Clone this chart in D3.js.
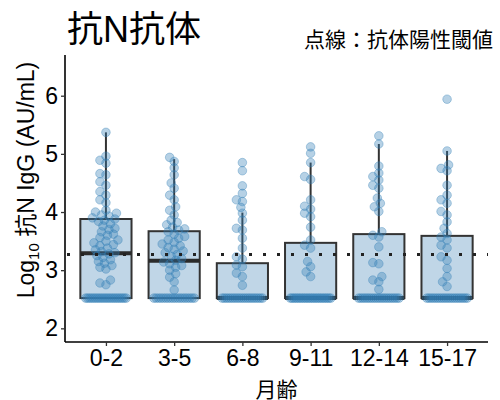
<!DOCTYPE html>
<html>
<head>
<meta charset="utf-8">
<script src="https://cdn.jsdelivr.net/npm/d3@7"></script>
<style>
  body { margin: 0; background: #fff; }
  svg text { font-family: "Liberation Sans", Arial, "Noto Sans CJK JP", sans-serif; }
</style>
</head>
<body>
<div id="chart"></div>
<script>
// age groups (months)
const groups = ['0-2', '3-5', '6-8', '9-11', '12-14', '15-17'];

// box statistics (log10 AU/mL)
const q1 = [2.52, 2.52, 2.52, 2.52, 2.52, 2.52];
const medians = [3.29, 3.16, 2.52, 2.52, 2.52, 2.52];
const q3 = [3.88, 3.67, 3.12, 3.47, 3.62, 3.59];
const whiskerHigh = [5.37, 4.91, 3.99, 4.85, 5.17, 5.05];

// lower detection limit and number of samples sitting on it
const floorValue = 2.52;
const floorCounts = [22, 18, 20, 24, 20, 20];

// individual samples above the floor
const pts0 = [5.37, 4.96, 4.89, 4.84, 4.66, 4.64, 4.52, 4.46, 4.35, 4.29, 4.21, 4.16,
  4.03, 4.0, 3.98, 3.95, 3.93, 3.9, 3.88, 3.86, 3.84, 3.8, 3.76, 3.72, 3.7, 3.66, 3.62,
  3.6, 3.56, 3.52, 3.5, 3.47, 3.44, 3.42, 3.38, 3.35, 3.32, 3.3, 3.28, 3.25, 3.22, 3.18,
  3.15, 3.12, 3.08, 3.05, 3.02, 2.83, 2.78, 2.75];
const pts1 = [4.94, 4.87, 4.76, 4.64, 4.5, 4.41, 4.29, 4.21, 4.09, 4.03, 3.95, 3.86,
  3.82, 3.78, 3.74, 3.71, 3.69, 3.66, 3.62, 3.58, 3.55, 3.52, 3.48, 3.45, 3.42, 3.39,
  3.36, 3.33, 3.3, 3.27, 3.24, 3.2, 3.17, 3.14, 3.11, 3.08, 3.05, 3.0, 2.94, 2.88, 2.8, 2.66];
const pts2 = [4.85, 4.71, 4.45, 4.32, 4.21, 4.18, 4.08, 3.98, 3.86, 3.72, 3.69, 3.55,
  3.38, 3.23, 3.19, 3.09, 3.06, 2.95, 2.89, 2.74];
const pts3 = [5.12, 5.01, 4.85, 4.61, 4.56, 4.21, 4.1, 4.05, 3.98, 3.92, 3.74, 3.52,
  3.43, 3.38, 3.15, 3.06, 2.97, 2.89];
const pts4 = [5.31, 5.17, 4.79, 4.67, 4.61, 4.55, 4.46, 4.41, 4.24, 4.15, 4.09, 4.01,
  3.66, 3.6, 3.57, 3.4, 3.13, 3.11, 2.89, 2.83, 2.8, 2.67];
const pts5 = [5.94, 5.05, 4.81, 4.75, 4.71, 4.46, 4.29, 4.21, 4.15, 4.01, 3.95, 3.83,
  3.72, 3.63, 3.57, 3.52, 3.43, 3.38, 3.23, 3.17, 3.03, 2.89, 2.8, 2.72];
const points = [pts0, pts1, pts2, pts3, pts4, pts5];

const threshold = 3.27;
const yTicks = [2, 3, 4, 5, 6];

const width = 500, height = 400;
const mLeft = 65, mRight = 488, mTop = 55, mBottom = 342;

const svg = d3.select('#chart').append('svg')
    .attr('width', width)
    .attr('height', height);

const x = d3.scalePoint()
    .domain(groups)
    .range([mLeft, mRight])
    .padding(0.6);

const y = d3.scaleLinear()
    .domain([1.765, 6.70])
    .range([mBottom, mTop]);

const boxW = x.step() * 0.75;
const r = 4.3;

// boxes
const boxes = svg.append('g');
groups.forEach(function(g, i) {
    const cx = x(g);
    boxes.append('line')
        .attr('x1', cx).attr('x2', cx)
        .attr('y1', y(q3[i])).attr('y2', y(whiskerHigh[i]))
        .attr('stroke', '#333').attr('stroke-width', 2);
    boxes.append('rect')
        .attr('x', cx - boxW / 2)
        .attr('y', y(q3[i]))
        .attr('width', boxW)
        .attr('height', y(q1[i]) - y(q3[i]))
        .attr('fill', '#c0d6e7')
        .attr('stroke', '#333')
        .attr('stroke-width', 2);
    boxes.append('line')
        .attr('x1', cx - boxW / 2).attr('x2', cx + boxW / 2)
        .attr('y1', y(medians[i])).attr('y2', y(medians[i]))
        .attr('stroke', '#2b2b2b').attr('stroke-width', 4);
});

// simple beeswarm placement so dots don't sit on one line
function swarm(values, cx, maxHalf) {
    const placed = [];
    const sorted = values.slice().sort((a, b) => a - b);
    sorted.forEach(function(v) {
        const py = y(v);
        let best = 0;
        for (let k = 0; k < 40; k++) {
            const dx = (k % 2 === 0 ? 1 : -1) * Math.ceil(k / 2) * 1.5;
            if (Math.abs(dx) > maxHalf) break;
            const ok = placed.every(p => Math.hypot(p.x - (cx + dx), p.y - py) >= 6);
            if (ok) { best = dx; break; }
        }
        placed.push({ x: cx + best, y: py });
    });
    return placed;
}

const dots = svg.append('g');
groups.forEach(function(g, i) {
    const cx = x(g);
    const list = swarm(points[i], cx, 16);
    const n = floorCounts[i];
    const half = boxW / 2 - r - 1;
    for (let k = 0; k < n; k++) {
        list.push({ x: cx - half + (2 * half) * k / (n - 1), y: y(floorValue) });
    }
    dots.selectAll(null)
        .data(list)
        .enter()
        .append('circle')
        .attr('cx', d => d.x)
        .attr('cy', d => d.y)
        .attr('r', r)
        .attr('fill', '#3580b6')
        .attr('fill-opacity', 0.36)
        .attr('stroke', '#3580b6')
        .attr('stroke-opacity', 0.45)
        .attr('stroke-width', 0.8);
});

// threshold
svg.append('line')
    .attr('x1', mLeft + 2).attr('x2', mRight)
    .attr('y1', y(threshold)).attr('y2', y(threshold))
    .attr('stroke', '#222')
    .attr('stroke-width', 3)
    .attr('stroke-dasharray', '3,11');

// axes
const yAxis = svg.append('g')
    .attr('transform', `translate(${mLeft},0)`)
    .call(d3.axisLeft(y).tickValues(yTicks).tickFormat(d3.format('d'))
        .tickSize(4).tickSizeOuter(0).tickPadding(3));

const xAxis = svg.append('g')
    .attr('transform', `translate(0,${mBottom})`)
    .call(d3.axisBottom(x).tickSize(4).tickSizeOuter(0).tickPadding(4));

[yAxis, xAxis].forEach(function(a) {
    a.select('.domain').attr('stroke', '#000').attr('stroke-width', 1.6);
    a.selectAll('.tick line').attr('stroke', '#333').attr('stroke-width', 1.3);
    a.selectAll('.tick text')
        .attr('fill', '#000')
        .attr('font-size', '23px')
        .attr('font-family', '"Liberation Sans", Arial, sans-serif');
});
xAxis.select('.domain').attr('d', `M${mLeft},0H${mRight}`);
yAxis.select('.domain').attr('d', `M0,${mTop}V${mBottom}`);

// axis titles
svg.append('text')
    .attr('x', (mLeft + mRight) / 2)
    .attr('y', 397)
    .attr('text-anchor', 'middle')
    .attr('font-size', '21px')
    .attr('font-family', '"Noto Sans CJK JP", sans-serif')
    .text('月齢');

const yl = svg.append('text')
    .attr('transform', 'translate(34,180) rotate(-90)')
    .attr('text-anchor', 'middle')
    .attr('font-size', '23px');
yl.append('tspan').text('Log');
yl.append('tspan').attr('font-size', '15px').attr('dy', 5).text('10');
yl.append('tspan').attr('dy', -5).text(' 抗N IgG (AU/mL)');

// titles
svg.append('text')
    .attr('x', 67)
    .attr('y', 42)
    .attr('font-size', '36px')
    .attr('font-family', '"Noto Sans CJK JP", sans-serif')
    .text('抗N抗体');

svg.append('text')
    .attr('x', 493)
    .attr('y', 47)
    .attr('text-anchor', 'end')
    .attr('font-size', '21px')
    .attr('font-family', '"Noto Sans CJK JP", sans-serif')
    .text('点線：抗体陽性閾値');
</script>
</body>
</html>
